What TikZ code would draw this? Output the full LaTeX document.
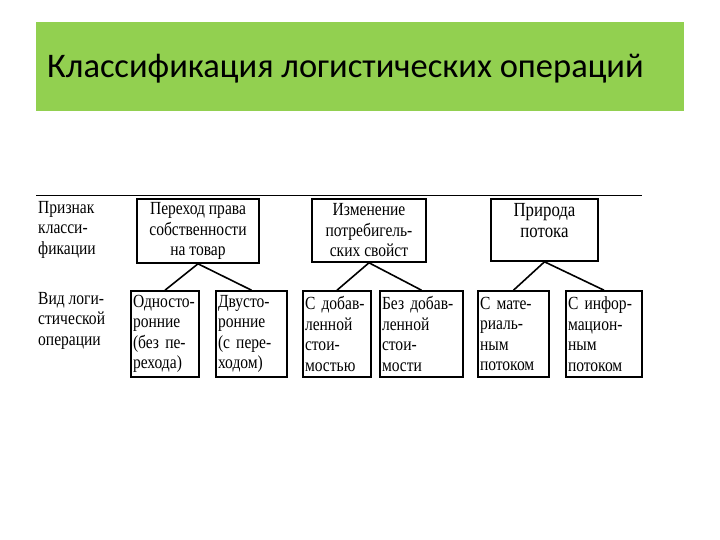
\documentclass[tikz,border=0pt]{standalone}
\usepackage{fontspec}
\setmainfont{Liberation Serif}[FakeStretch=0.84]
\newfontfamily\titlefont{Carlito}
\definecolor{banner}{HTML}{92D050}
\begin{document}
\begin{tikzpicture}[x=1pt,y=-1pt,
  box/.style={draw,line width=1.6pt,inner sep=0pt,font=\fontsize{18.5}{20.5}\selectfont},
  lbl/.style={anchor=north west,align=left,inner sep=0pt,font=\fontsize{18.5}{20.5}\selectfont},
  conn/.style={line width=1.6pt}]
\useasboundingbox (0,0) rectangle (720,540);
\node[fill=banner,minimum width=648pt,minimum height=89pt,inner sep=0pt] (banner) at (360,66.5) {};
\node[font=\titlefont\fontsize{34.5}{38}\selectfont,anchor=west,inner sep=0pt] (title) at (47,69) {Классификация логистических операций};
\coordinate (l1) at (36,195); \coordinate (l2) at (642,195);
\draw[line width=0.9pt] (l1) -- (l2);
\node[lbl] (p1) at (38,201) {Признак\\класси-\\фикации};
\node[lbl] (p2) at (38,292) {Вид логи-\\стической\\операции};
% top boxes
\node[box,minimum width=122pt,minimum height=64pt,align=center] (t1) at (198,231) {Переход права\\собственности\\на товар};
\node[box,minimum width=114pt,minimum height=63pt,align=center] (t2) at (369,230.5) {Изменение\\потребигель-\\ских свойст};
\node[box,minimum width=107pt,minimum height=62pt] (t3) at (544.5,230) {};
\node[align=center,inner sep=0pt,anchor=north,font=\fontsize{20}{21}\selectfont] (t3t) at (544.5,203) {Природа\\потока};
% bottom boxes
\tikzset{bb/.style={box,minimum height=86pt,text width=#1,align=left,inner xsep=2pt}}
\node[bb=64pt,minimum width=68pt] (b1) at (165,334) {Односто-\\ронние\\(без пе-\\рехода)};
\node[bb=67pt,minimum width=71pt] (b2) at (251.5,334) {Двусто-\\ронние\\(с пере-\\ходом)};
\node[bb=64pt,minimum width=68pt] (b3) at (337,334) {С добав-\\ленной\\стои-\\мостью};
\node[bb=79pt,minimum width=83pt] (b4) at (421.5,334) {Без добав-\\ленной\\стои-\\мости};
\node[bb=67pt,minimum width=71pt] (b5) at (513.5,334) {С мате-\\риаль-\\ным\\потоком};
\node[bb=72pt,minimum width=76pt] (b6) at (604,334) {С инфор-\\мацион-\\ным\\потоком};
\draw[conn] (b1.north) -- (t1.south) -- (b2.north);
\draw[conn] (b3.north) -- (t2.south) -- (b4.north);
\draw[conn] (b5.north) -- (t3.south) -- (b6.north);
\end{tikzpicture}
\end{document}
